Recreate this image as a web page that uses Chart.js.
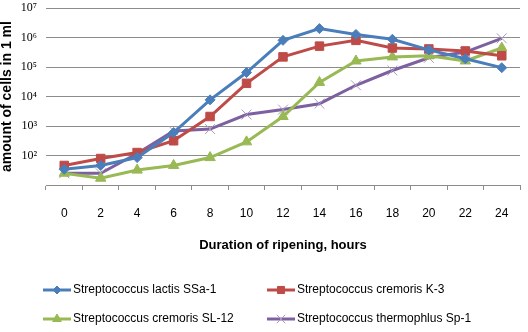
<!DOCTYPE html>
<html>
<head>
<meta charset="utf-8">
<script src="https://cdn.jsdelivr.net/npm/chart.js@4.4.0/dist/chart.umd.min.js"></script>
<style>
  html, body { margin: 0; padding: 0; background: #fff; }
  #wrap { width: 528px; height: 332px; }
</style>
</head>
<body>
<div id="wrap"><canvas id="myChart" width="528" height="332"></canvas></div>
<script>
// hours of ripening
const hours = ['0', '2', '4', '6', '8', '10', '12', '14', '16', '18', '20', '22', '24'];

// cells in 1 ml
const lactisSSa1 = [34, 46, 85, 600, 7700, 65000, 800000, 2000000, 1270000, 870000, 380000, 190000, 95000];
const cremorisK3 = [46, 79, 126, 316, 2100, 28000, 220000, 510000, 800000, 440000, 410000, 350000, 240000];
const cremorisSL12 = [25, 17, 32, 46, 85, 290, 2100, 30000, 160000, 220000, 240000, 160000, 440000];
const thermophilusSp1 = [25, 25, 117, 680, 790, 2450, 3600, 5700, 24000, 76000, 205000, 320000, 940000];

const yTicks = [1e1, 1e2, 1e3, 1e4, 1e5, 1e6, 1e7];
const sup = ['⁰', '¹', '²', '³', '⁴', '⁵', '⁶', '⁷', '⁸', '⁹'];

const blue = '#4a7ebb';
const red = '#be4b48';
const green = '#98b954';
const purple = '#7d60a0';

function series(label, values, color, style, radius) {
    return {
        label: label,
        data: values,
        borderColor: color,
        backgroundColor: color,
        borderWidth: 3,
        pointStyle: style,
        pointRadius: radius,
        pointBorderWidth: 1,
        pointBorderColor: style === 'crossRot' ? '#a99bc0' : color,
        tension: 0
    };
}

const data = {
    labels: hours,
    datasets: [
        series('Streptococcus lactis SSa-1', lactisSSa1, blue, 'rectRot', 5),
        series('Streptococcus cremoris K-3', cremorisK3, red, 'rect', 6),
        series('Streptococcus cremoris SL-12', cremorisSL12, green, 'triangle', 6),
        series('Streptococcus thermophlus Sp-1', thermophilusSp1, purple, 'crossRot', 7)
    ]
};

// legend in two rows of two, drawn under the axis title
const legendBelow = {
    id: 'legendBelow',
    afterDraw(chart) {
        const ctx = chart.ctx;
        const cols = [43, 267];
        const rows = [290, 319];
        ctx.save();
        ctx.font = '12px "Liberation Sans", Arial, sans-serif';
        ctx.textBaseline = 'middle';
        chart.data.datasets.forEach(function (ds, i) {
            const x = cols[i % 2];
            const y = rows[Math.floor(i / 2)];
            ctx.strokeStyle = ds.borderColor;
            ctx.lineWidth = 3;
            ctx.beginPath();
            ctx.moveTo(x, y);
            ctx.lineTo(x + 28, y);
            ctx.stroke();
            ctx.fillStyle = ds.backgroundColor;
            ctx.strokeStyle = ds.pointBorderColor;
            ctx.lineWidth = 1;
            Chart.helpers.drawPoint(ctx, {
                pointStyle: ds.pointStyle,
                radius: ds.pointRadius - 1,
                borderWidth: 1
            }, x + 14, y);
            ctx.fillStyle = '#000';
            ctx.fillText(ds.label, x + 30, y);
        });
        ctx.restore();
    }
};

const config = {
    type: 'line',
    data: data,
    options: {
        responsive: false,
        animation: false,
        layout: {
            padding: { top: 4, right: 1, left: 0, bottom: 77 }
        },
        plugins: {
            legend: { display: false },
            tooltip: { enabled: false }
        },
        scales: {
            x: {
                offset: true,
                grid: {
                    offset: true,
                    drawOnChartArea: false,
                    drawTicks: true,
                    tickLength: 5,
                    color: '#8c8c8c'
                },
                border: { color: '#8c8c8c', width: 1 },
                ticks: {
                    padding: 16,
                    color: '#000',
                    font: { family: '"Liberation Sans", Arial, sans-serif', size: 12 }
                },
                title: {
                    display: true,
                    text: 'Duration of ripening, hours',
                    color: '#000',
                    font: { family: '"Liberation Sans", Arial, sans-serif', size: 13, weight: 'bold' },
                    padding: { top: 0, bottom: 2 }
                },
                afterFit: function (scale) { scale.height = 70; }
            },
            y: {
                type: 'logarithmic',
                min: 10,
                max: 1e7,
                afterBuildTicks: function (scale) {
                    scale.ticks = yTicks.map(v => ({ value: v }));
                },
                grid: {
                    drawTicks: false,
                    color: '#8c8c8c'
                },
                border: { display: false },
                ticks: {
                    padding: 9,
                    color: '#000',
                    font: { family: '"Liberation Serif", "Times New Roman", serif', size: 12 },
                    callback: function (value) {
                        const p = Math.round(Math.log10(value));
                        if (p < 2) return '';
                        return '10' + sup[p];
                    }
                },
                title: {
                    display: true,
                    text: 'amount of cells in 1 ml',
                    color: '#000',
                    font: { family: '"Liberation Sans", Arial, sans-serif', size: 14, weight: 'bold', lineHeight: 1 },
                    padding: 0
                },
                afterFit: function (scale) {
                    scale.width = 46;
                    scale.paddingTop = 0;
                    scale.paddingBottom = 0;
                }
            }
        }
    },
    plugins: [legendBelow]
};

var myChart = new Chart(document.getElementById('myChart'), config);
</script>
</body>
</html>
